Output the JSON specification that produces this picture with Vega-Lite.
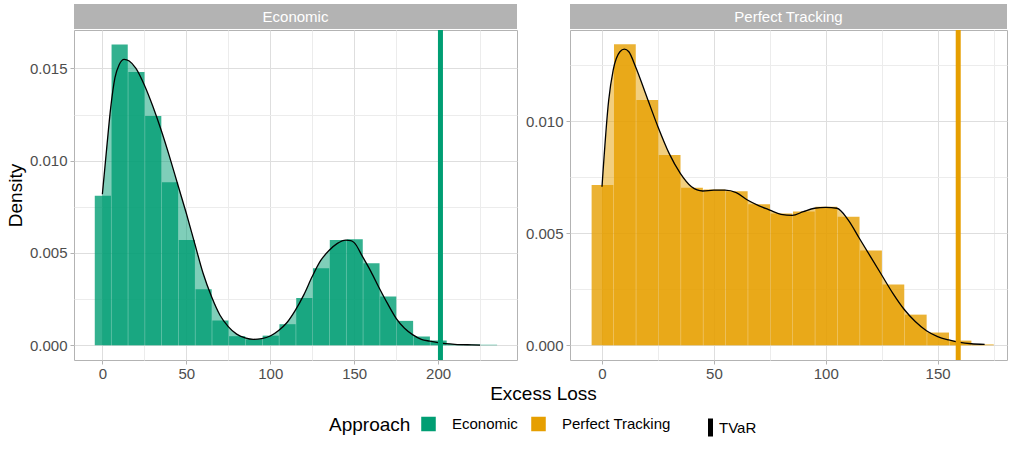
{
  "$schema": "https://vega.github.io/schema/vega-lite/v6.json",
  "padding": {"left": 5, "top": 4, "right": 3, "bottom": 5},
  "background": "white",
  "datasets": {
    "hist": [
      {"Approach": "Economic", "bin_start": -5, "bin_end": 5, "density": 0.0081},
      {"Approach": "Economic", "bin_start": 5, "bin_end": 15, "density": 0.0163},
      {"Approach": "Economic", "bin_start": 15, "bin_end": 25, "density": 0.0148},
      {"Approach": "Economic", "bin_start": 25, "bin_end": 35, "density": 0.01242},
      {"Approach": "Economic", "bin_start": 35, "bin_end": 45, "density": 0.00883},
      {"Approach": "Economic", "bin_start": 45, "bin_end": 55, "density": 0.0057},
      {"Approach": "Economic", "bin_start": 55, "bin_end": 65, "density": 0.00303},
      {"Approach": "Economic", "bin_start": 65, "bin_end": 75, "density": 0.00134},
      {"Approach": "Economic", "bin_start": 75, "bin_end": 85, "density": 0.00049},
      {"Approach": "Economic", "bin_start": 85, "bin_end": 95, "density": 0.00032},
      {"Approach": "Economic", "bin_start": 95, "bin_end": 105, "density": 0.00052},
      {"Approach": "Economic", "bin_start": 105, "bin_end": 115, "density": 0.00114},
      {"Approach": "Economic", "bin_start": 115, "bin_end": 125, "density": 0.00256},
      {"Approach": "Economic", "bin_start": 125, "bin_end": 135, "density": 0.00417},
      {"Approach": "Economic", "bin_start": 135, "bin_end": 145, "density": 0.0057},
      {"Approach": "Economic", "bin_start": 145, "bin_end": 155, "density": 0.00574},
      {"Approach": "Economic", "bin_start": 155, "bin_end": 165, "density": 0.00444},
      {"Approach": "Economic", "bin_start": 165, "bin_end": 175, "density": 0.00264},
      {"Approach": "Economic", "bin_start": 175, "bin_end": 185, "density": 0.00132},
      {"Approach": "Economic", "bin_start": 185, "bin_end": 195, "density": 0.00047},
      {"Approach": "Economic", "bin_start": 195, "bin_end": 205, "density": 0.00025},
      {"Approach": "Economic", "bin_start": 205, "bin_end": 215, "density": 0.00005},
      {"Approach": "Economic", "bin_start": 215, "bin_end": 225, "density": 0.00004},
      {"Approach": "Economic", "bin_start": 225, "bin_end": 235, "density": 0.00003},
      {"Approach": "Perfect Tracking", "bin_start": -5, "bin_end": 5, "density": 0.00716},
      {"Approach": "Perfect Tracking", "bin_start": 5, "bin_end": 15, "density": 0.01344},
      {"Approach": "Perfect Tracking", "bin_start": 15, "bin_end": 25, "density": 0.01095},
      {"Approach": "Perfect Tracking", "bin_start": 25, "bin_end": 35, "density": 0.0085},
      {"Approach": "Perfect Tracking", "bin_start": 35, "bin_end": 45, "density": 0.00704},
      {"Approach": "Perfect Tracking", "bin_start": 45, "bin_end": 55, "density": 0.00696},
      {"Approach": "Perfect Tracking", "bin_start": 55, "bin_end": 65, "density": 0.00688},
      {"Approach": "Perfect Tracking", "bin_start": 65, "bin_end": 75, "density": 0.0063},
      {"Approach": "Perfect Tracking", "bin_start": 75, "bin_end": 85, "density": 0.00589},
      {"Approach": "Perfect Tracking", "bin_start": 85, "bin_end": 95, "density": 0.00597},
      {"Approach": "Perfect Tracking", "bin_start": 95, "bin_end": 105, "density": 0.00619},
      {"Approach": "Perfect Tracking", "bin_start": 105, "bin_end": 115, "density": 0.00574},
      {"Approach": "Perfect Tracking", "bin_start": 115, "bin_end": 125, "density": 0.00423},
      {"Approach": "Perfect Tracking", "bin_start": 125, "bin_end": 135, "density": 0.00272},
      {"Approach": "Perfect Tracking", "bin_start": 135, "bin_end": 145, "density": 0.00137},
      {"Approach": "Perfect Tracking", "bin_start": 145, "bin_end": 155, "density": 0.00057},
      {"Approach": "Perfect Tracking", "bin_start": 155, "bin_end": 165, "density": 0.00021},
      {"Approach": "Perfect Tracking", "bin_start": 165, "bin_end": 175, "density": 0.00004}
    ],
    "dens": [
      {"Approach": "Economic", "x": 0, "density": 0.00818},
      {"Approach": "Economic", "x": 2.5, "density": 0.0106},
      {"Approach": "Economic", "x": 5, "density": 0.0129},
      {"Approach": "Economic", "x": 7.5, "density": 0.0145},
      {"Approach": "Economic", "x": 10, "density": 0.0152},
      {"Approach": "Economic", "x": 13, "density": 0.01549},
      {"Approach": "Economic", "x": 16, "density": 0.0154},
      {"Approach": "Economic", "x": 20, "density": 0.0150},
      {"Approach": "Economic", "x": 25, "density": 0.0141},
      {"Approach": "Economic", "x": 30, "density": 0.01296},
      {"Approach": "Economic", "x": 35, "density": 0.01166},
      {"Approach": "Economic", "x": 40, "density": 0.01022},
      {"Approach": "Economic", "x": 45, "density": 0.00868},
      {"Approach": "Economic", "x": 50, "density": 0.00715},
      {"Approach": "Economic", "x": 55, "density": 0.00552},
      {"Approach": "Economic", "x": 60, "density": 0.0039},
      {"Approach": "Economic", "x": 65, "density": 0.00264},
      {"Approach": "Economic", "x": 70, "density": 0.00164},
      {"Approach": "Economic", "x": 75, "density": 0.00101},
      {"Approach": "Economic", "x": 80, "density": 0.0006},
      {"Approach": "Economic", "x": 85, "density": 0.0004},
      {"Approach": "Economic", "x": 90, "density": 0.00032},
      {"Approach": "Economic", "x": 95, "density": 0.00036},
      {"Approach": "Economic", "x": 100, "density": 0.0005},
      {"Approach": "Economic", "x": 105, "density": 0.0008},
      {"Approach": "Economic", "x": 110, "density": 0.00123},
      {"Approach": "Economic", "x": 115, "density": 0.0019},
      {"Approach": "Economic", "x": 120, "density": 0.00273},
      {"Approach": "Economic", "x": 125, "density": 0.00372},
      {"Approach": "Economic", "x": 130, "density": 0.00458},
      {"Approach": "Economic", "x": 135, "density": 0.00513},
      {"Approach": "Economic", "x": 140, "density": 0.00552},
      {"Approach": "Economic", "x": 145, "density": 0.0057},
      {"Approach": "Economic", "x": 148, "density": 0.00567},
      {"Approach": "Economic", "x": 150, "density": 0.00556},
      {"Approach": "Economic", "x": 155, "density": 0.0048},
      {"Approach": "Economic", "x": 160, "density": 0.00399},
      {"Approach": "Economic", "x": 165, "density": 0.00309},
      {"Approach": "Economic", "x": 170, "density": 0.00224},
      {"Approach": "Economic", "x": 175, "density": 0.00146},
      {"Approach": "Economic", "x": 180, "density": 0.00092},
      {"Approach": "Economic", "x": 185, "density": 0.00056},
      {"Approach": "Economic", "x": 190, "density": 0.00032},
      {"Approach": "Economic", "x": 195, "density": 0.00022},
      {"Approach": "Economic", "x": 200, "density": 0.00014},
      {"Approach": "Economic", "x": 210, "density": 0.00005},
      {"Approach": "Economic", "x": 220, "density": 0.00002},
      {"Approach": "Economic", "x": 225, "density": 0.00001},
      {"Approach": "Perfect Tracking", "x": 0, "density": 0.00708},
      {"Approach": "Perfect Tracking", "x": 3, "density": 0.01095},
      {"Approach": "Perfect Tracking", "x": 5, "density": 0.01229},
      {"Approach": "Perfect Tracking", "x": 8, "density": 0.01311},
      {"Approach": "Perfect Tracking", "x": 10, "density": 0.01323},
      {"Approach": "Perfect Tracking", "x": 12, "density": 0.01311},
      {"Approach": "Perfect Tracking", "x": 15, "density": 0.01244},
      {"Approach": "Perfect Tracking", "x": 20, "density": 0.0111},
      {"Approach": "Perfect Tracking", "x": 25, "density": 0.00976},
      {"Approach": "Perfect Tracking", "x": 30, "density": 0.00857},
      {"Approach": "Perfect Tracking", "x": 35, "density": 0.00768},
      {"Approach": "Perfect Tracking", "x": 40, "density": 0.00708},
      {"Approach": "Perfect Tracking", "x": 45, "density": 0.00689},
      {"Approach": "Perfect Tracking", "x": 50, "density": 0.00693},
      {"Approach": "Perfect Tracking", "x": 55, "density": 0.00693},
      {"Approach": "Perfect Tracking", "x": 60, "density": 0.00682},
      {"Approach": "Perfect Tracking", "x": 65, "density": 0.00649},
      {"Approach": "Perfect Tracking", "x": 70, "density": 0.00624},
      {"Approach": "Perfect Tracking", "x": 75, "density": 0.00604},
      {"Approach": "Perfect Tracking", "x": 80, "density": 0.00585},
      {"Approach": "Perfect Tracking", "x": 85, "density": 0.0058},
      {"Approach": "Perfect Tracking", "x": 90, "density": 0.00597},
      {"Approach": "Perfect Tracking", "x": 95, "density": 0.00612},
      {"Approach": "Perfect Tracking", "x": 100, "density": 0.00616},
      {"Approach": "Perfect Tracking", "x": 105, "density": 0.00612},
      {"Approach": "Perfect Tracking", "x": 110, "density": 0.0056},
      {"Approach": "Perfect Tracking", "x": 115, "density": 0.00478},
      {"Approach": "Perfect Tracking", "x": 120, "density": 0.00396},
      {"Approach": "Perfect Tracking", "x": 125, "density": 0.00314},
      {"Approach": "Perfect Tracking", "x": 130, "density": 0.00232},
      {"Approach": "Perfect Tracking", "x": 135, "density": 0.00161},
      {"Approach": "Perfect Tracking", "x": 140, "density": 0.00106},
      {"Approach": "Perfect Tracking", "x": 145, "density": 0.00065},
      {"Approach": "Perfect Tracking", "x": 150, "density": 0.00039},
      {"Approach": "Perfect Tracking", "x": 155, "density": 0.00024},
      {"Approach": "Perfect Tracking", "x": 160, "density": 0.00013},
      {"Approach": "Perfect Tracking", "x": 165, "density": 0.00007},
      {"Approach": "Perfect Tracking", "x": 171, "density": 0.00004}
    ],
    "tvar": [
      {"Approach": "Economic", "TVaR": 201.4, "label": "TVaR"},
      {"Approach": "Perfect Tracking", "TVaR": 159.2, "label": "TVaR"}
    ]
  },
  "config": {
    "font": "Liberation Sans",
    "view": {"stroke": "#b3b3b3", "strokeWidth": 1},
    "axis": {
      "labelFont": "Liberation Sans",
      "labelFontSize": 15,
      "labelColor": "#4d4d4d",
      "tickColor": "#b3b3b3",
      "tickSize": 4,
      "labelPadding": 2,
      "domain": false,
      "titleFont": "Liberation Sans",
      "titleFontSize": 19,
      "titleFontWeight": "normal",
      "titleColor": "black"
    },
    "legend": {
      "direction": "horizontal",
      "titleOrient": "left",
      "symbolStrokeColor": "black",
      "symbolStrokeWidth": 1.5,
      "labelFont": "Liberation Sans",
      "labelFontSize": 15,
      "labelColor": "black",
      "titleFont": "Liberation Sans",
      "titleFontSize": 19,
      "titleFontWeight": "normal",
      "titleColor": "black"
    }
  },
  "concat": [
    {
      "width": 443,
      "height": 25,
      "view": {"stroke": null},
      "data": {"values": [{"Approach": "Economic"}]},
      "layer": [
        {
          "mark": {"type": "rect", "color": "#b3b3b3"},
          "encoding": {
            "x": {"datum": 0, "type": "quantitative", "scale": {"domain": [0, 1]}, "axis": null},
            "x2": {"datum": 1},
            "y": {"datum": 0, "type": "quantitative", "scale": {"domain": [0, 1]}, "axis": null},
            "y2": {"datum": 1}
          }
        },
        {
          "mark": {"type": "text", "color": "white", "fontSize": 15, "font": "Liberation Sans"},
          "encoding": {
            "x": {"datum": 0.5, "type": "quantitative"},
            "y": {"datum": 0.5, "type": "quantitative"},
            "text": {"field": "Approach"}
          }
        }
      ]
    },
    {
      "width": 437,
      "height": 25,
      "view": {"stroke": null},
      "data": {"values": [{"Approach": "Perfect Tracking"}]},
      "layer": [
        {
          "mark": {"type": "rect", "color": "#b3b3b3"},
          "encoding": {
            "x": {"datum": 0, "type": "quantitative", "scale": {"domain": [0, 1]}, "axis": null},
            "x2": {"datum": 1},
            "y": {"datum": 0, "type": "quantitative", "scale": {"domain": [0, 1]}, "axis": null},
            "y2": {"datum": 1}
          }
        },
        {
          "mark": {"type": "text", "color": "white", "fontSize": 15, "font": "Liberation Sans"},
          "encoding": {
            "x": {"datum": 0.5, "type": "quantitative"},
            "y": {"datum": 0.5, "type": "quantitative"},
            "text": {"field": "Approach"}
          }
        }
      ]
    },
    {
      "width": 443,
      "height": 330,
      "encoding": {
        "x": {
          "type": "quantitative",
          "scale": {"domain": [-16.9, 247], "nice": false, "zero": false},
          "axis": {
            "title": "Excess Loss",
            "titleX": 469,
            "titlePadding": 3,
            "values": [0, 25, 50, 75, 100, 125, 150, 175, 200, 225],
            "labelExpr": "datum.value % 50 === 0 ? datum.label : ''",
            "tickOpacity": {"condition": {"test": "datum.value % 50 !== 0", "value": 0}, "value": 1},
            "gridColor": {"condition": {"test": "datum.value % 50 === 0", "value": "#dedede"}, "value": "#ececec"}
          }
        },
        "y": {
          "type": "quantitative",
          "scale": {"domain": [-0.0008, 0.01708], "nice": false, "zero": false},
          "axis": {
            "title": "Density",
            "titlePadding": 4,
            "format": ".3f",
            "labelPadding": 3,
            "values": [0, 0.0025, 0.005, 0.0075, 0.01, 0.0125, 0.015],
            "labelExpr": "round(datum.value * 10000) % 50 === 0 ? datum.label : ''",
            "tickOpacity": {"condition": {"test": "round(datum.value * 10000) % 50 !== 0", "value": 0}, "value": 1},
            "gridColor": {"condition": {"test": "round(datum.value * 10000) % 50 === 0", "value": "#dedede"}, "value": "#ececec"}
          }
        }
      },
      "layer": [
        {
          "data": {"name": "dens"},
          "transform": [{"filter": "datum.Approach === 'Economic'"}],
          "mark": {"type": "area", "opacity": 0.5},
          "encoding": {
            "x": {"field": "x", "type": "quantitative"},
            "y": {"field": "density", "type": "quantitative"},
            "y2": {"datum": 0},
            "color": {
              "field": "Approach", "type": "nominal",
              "scale": {"domain": ["Economic", "Perfect Tracking"], "range": ["#009E73", "#E69F00"]},
              "legend": {
                "title": "Approach", "orient": "none", "legendX": 255, "legendY": 412, "titlePadding": 10,
                "symbolType": "square", "symbolSize": 170, "symbolOpacity": 1, "symbolStrokeColor": "black", "symbolStrokeWidth": 1.5,
                "columnPadding": 10, "labelOffset": 16,
                "encode": {"symbols": {"update": {"stroke": {"value": "black"}, "strokeWidth": {"value": 1.5}, "strokeOpacity": {"value": 1}, "opacity": {"value": 1}, "fillOpacity": {"value": 1}}}}
              }
            }
          }
        },
        {
          "data": {"name": "hist"},
          "transform": [{"filter": "datum.Approach === 'Economic'"}],
          "mark": {"type": "bar", "opacity": 0.8, "binSpacing": 0.6},
          "encoding": {
            "x": {"field": "bin_start", "type": "quantitative", "bin": "binned"},
            "x2": {"field": "bin_end"},
            "y": {"field": "density", "type": "quantitative"},
            "y2": {"datum": 0},
            "color": {"field": "Approach", "type": "nominal"}
          }
        },
        {
          "data": {"name": "dens"},
          "transform": [{"filter": "datum.Approach === 'Economic'"}],
          "mark": {"type": "line", "color": "black", "strokeWidth": 1.3, "interpolate": "monotone"},
          "encoding": {
            "x": {"field": "x", "type": "quantitative"},
            "y": {"field": "density", "type": "quantitative"}
          }
        },
        {
          "data": {"name": "tvar"},
          "transform": [{"filter": "datum.Approach === 'Economic'"}],
          "mark": {"type": "rule", "strokeWidth": 5},
          "encoding": {
            "x": {"field": "TVaR", "type": "quantitative"},
            "stroke": {"field": "Approach", "type": "nominal", "scale": {"domain": ["Economic", "Perfect Tracking"], "range": ["#009E73", "#E69F00"]}, "legend": null},
            "strokeDash": {
              "field": "label", "type": "nominal",
              "scale": {"range": [[1, 0]]},
              "legend": {
                "title": null, "orient": "none", "legendX": 625, "legendY": 412,
                "symbolType": "M0,-1L0,1", "symbolSize": 320, "symbolStrokeColor": "black", "symbolStrokeWidth": 5, "labelOffset": -3,
                "encode": {"symbols": {"update": {"stroke": {"value": "black"}, "strokeWidth": {"value": 5}, "shape": {"value": "M0,-1L0,1"}, "size": {"value": 320}, "strokeDash": {"value": [1, 0]}}}}
              }
            }
          }
        }
      ]
    },
    {
      "width": 437,
      "height": 330,
      "encoding": {
        "x": {
          "type": "quantitative",
          "scale": {"domain": [-14.3, 181], "nice": false, "zero": false},
          "axis": {
            "title": null,
            "values": [0, 25, 50, 75, 100, 125, 150, 175],
            "labelExpr": "datum.value % 50 === 0 ? datum.label : ''",
            "tickOpacity": {"condition": {"test": "datum.value % 50 !== 0", "value": 0}, "value": 1},
            "gridColor": {"condition": {"test": "datum.value % 50 === 0", "value": "#dedede"}, "value": "#ececec"}
          }
        },
        "y": {
          "type": "quantitative",
          "scale": {"domain": [-0.000656, 0.01408], "nice": false, "zero": false},
          "axis": {
            "title": null,
            "format": ".3f",
            "labelPadding": 3,
            "values": [0, 0.0025, 0.005, 0.0075, 0.01, 0.0125],
            "labelExpr": "round(datum.value * 10000) % 50 === 0 ? datum.label : ''",
            "tickOpacity": {"condition": {"test": "round(datum.value * 10000) % 50 !== 0", "value": 0}, "value": 1},
            "gridColor": {"condition": {"test": "round(datum.value * 10000) % 50 === 0", "value": "#dedede"}, "value": "#ececec"}
          }
        }
      },
      "layer": [
        {
          "data": {"name": "dens"},
          "transform": [{"filter": "datum.Approach === 'Perfect Tracking'"}],
          "mark": {"type": "area", "opacity": 0.5},
          "encoding": {
            "x": {"field": "x", "type": "quantitative"},
            "y": {"field": "density", "type": "quantitative"},
            "y2": {"datum": 0},
            "color": {"field": "Approach", "type": "nominal"}
          }
        },
        {
          "data": {"name": "hist"},
          "transform": [{"filter": "datum.Approach === 'Perfect Tracking'"}],
          "mark": {"type": "bar", "opacity": 0.8, "binSpacing": 0.6},
          "encoding": {
            "x": {"field": "bin_start", "type": "quantitative", "bin": "binned"},
            "x2": {"field": "bin_end"},
            "y": {"field": "density", "type": "quantitative"},
            "y2": {"datum": 0},
            "color": {"field": "Approach", "type": "nominal"}
          }
        },
        {
          "data": {"name": "dens"},
          "transform": [{"filter": "datum.Approach === 'Perfect Tracking'"}],
          "mark": {"type": "line", "color": "black", "strokeWidth": 1.3, "interpolate": "monotone"},
          "encoding": {
            "x": {"field": "x", "type": "quantitative"},
            "y": {"field": "density", "type": "quantitative"}
          }
        },
        {
          "data": {"name": "tvar"},
          "transform": [{"filter": "datum.Approach === 'Perfect Tracking'"}],
          "mark": {"type": "rule", "strokeWidth": 5},
          "encoding": {
            "x": {"field": "TVaR", "type": "quantitative"},
            "stroke": {"field": "Approach", "type": "nominal", "legend": null},
            "strokeDash": {"field": "label", "type": "nominal"}
          }
        }
      ]
    }
  ],
  "columns": 2,
  "spacing": {"row": 1, "column": 53},
  "bounds": "flush",
  "resolve": {
    "scale": {"x": "independent", "y": "independent", "color": "shared", "stroke": "shared", "strokeDash": "shared"},
    "axis": {"x": "independent", "y": "independent"},
    "legend": {"color": "shared", "strokeDash": "shared"}
  },
  "encoding": {}
}
